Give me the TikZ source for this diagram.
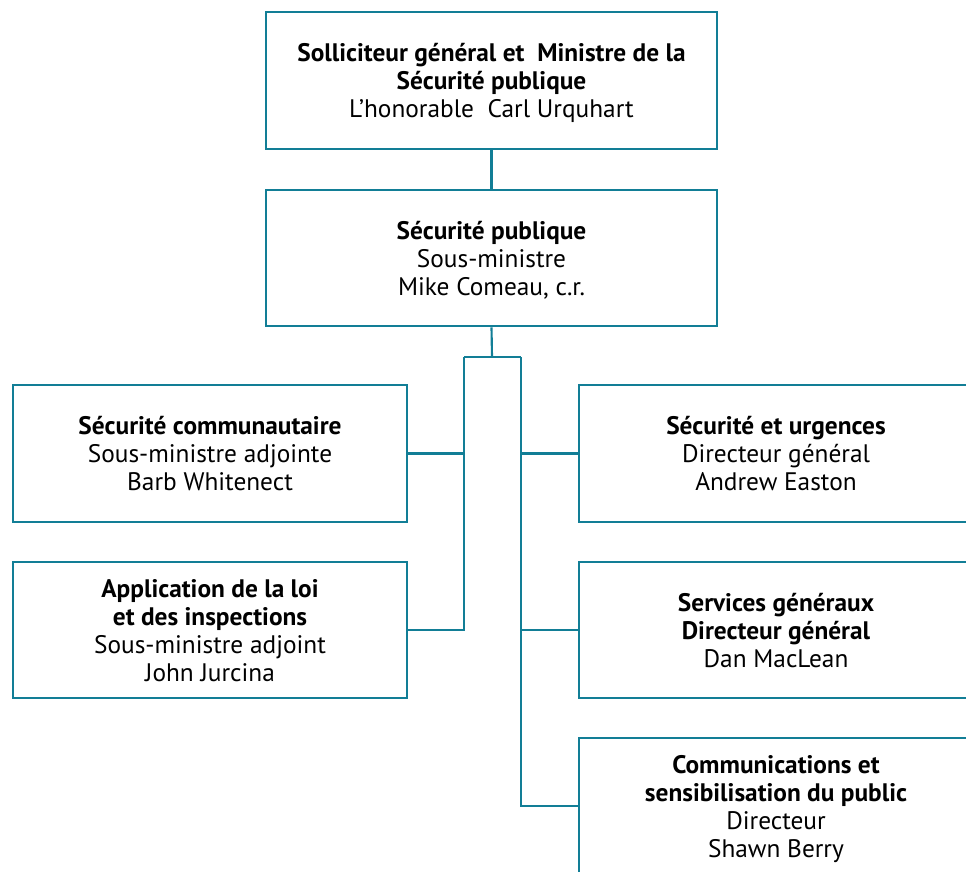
\documentclass[tikz,border=0pt]{standalone}
\usepackage{fontspec}
\setmainfont{PT Sans}
\definecolor{orgteal}{RGB}{18,126,150}

\begin{document}
\begin{tikzpicture}[x=0.75pt, y=-0.75pt, box/.style = {draw=orgteal, line width=1.6pt, align=center, minimum width=296pt, minimum height=102.5pt, inner sep=0pt, text depth=-3pt, font=\fontsize{19}{21}\selectfont}, wide/.style = {box, minimum width=338pt}, link/.style = {draw=orgteal, line width=1.6pt}]

    \useasboundingbox (0,0) rectangle (966,871);
    \clip (0,0) rectangle (966,871);

    \node at (491.5, 80.5) [wide] (sg) {\textbf{Solliciteur général et \ Ministre de la}\\ \textbf{Sécurité publique}\\ L’honorable \ Carl Urquhart};
    \node at (491.5, 258) [wide] (sp) {\textbf{Sécurité publique}\\ Sous-ministre\\ Mike Comeau, c.r.};

    \node at (210, 453.5) [box] (sc) {\textbf{Sécurité communautaire}\\ Sous-ministre adjointe\\ Barb Whitenect};
    \node at (210, 630) [box] (al) {\textbf{Application de la loi}\\ \textbf{et des inspections}\\ Sous-ministre adjoint\\ John Jurcina};

    \node at (776, 453.5) [box] (su) {\textbf{Sécurité et urgences}\\ Directeur général\\ Andrew Easton};
    \node at (776, 630) [box] (sgx) {\textbf{Services généraux}\\ \textbf{Directeur général}\\ Dan MacLean};
    \node at (776, 806) [box] (cs) {\textbf{Communications et}\\ \textbf{sensibilisation du public}\\ Directeur\\ Shawn Berry};

    \coordinate (j) at (492, 357);
    \coordinate (jl) at (464, 357);
    \coordinate (jr) at (521, 357);

    \draw[link] (sg.south) -- (sp.north);
    \draw[link] (sp.south) -- (j);
    \draw[link] (jl) -- (jr);
    \draw[link] (jl) |- (al.east);
    \draw[link] (sc.east) -- (sc.east -| jl);
    \draw[link] (jr) |- (cs.west);
    \draw[link] (su.west) -- (su.west -| jr);
    \draw[link] (sgx.west) -- (sgx.west -| jr);
\end{tikzpicture}
\end{document}
